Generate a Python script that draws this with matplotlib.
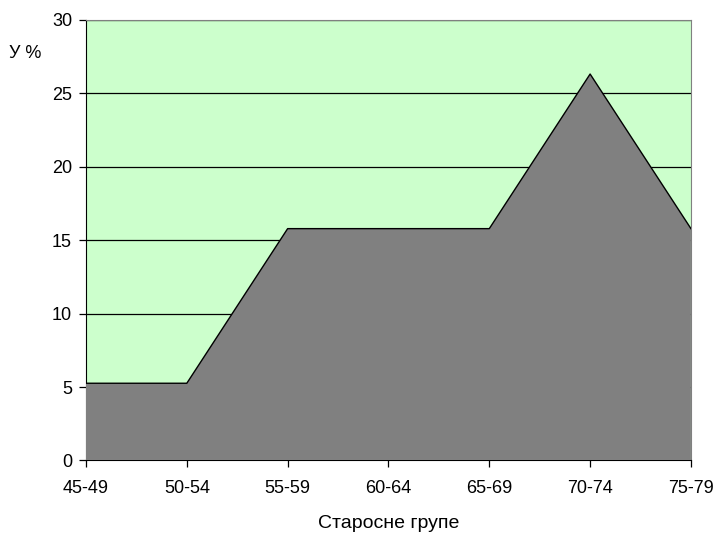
import matplotlib.pyplot as plt

plt.rcParams['font.family'] = ['Liberation Sans', 'DejaVu Sans']

groups = ['45-49', '50-54', '55-59', '60-64', '65-69', '70-74', '75-79']
percent = [5.26, 5.26, 15.79, 15.79, 15.79, 26.32, 15.79]

fig = plt.figure(figsize=(7.16, 5.36), dpi=100)
ax = fig.add_axes([0.1201, 0.1409, 0.8449, 0.8218])
ax.set_facecolor('#CCFFCC')

x = range(len(groups))
ax.fill_between(x, percent, 0, facecolor='#808080', edgecolor='none', zorder=3)
ax.plot(x, percent, color='black', lw=1, zorder=4)

ax.set_xlim(0, len(groups) - 1)
ax.set_ylim(0, 30)
ax.set_xticks(list(x))
ax.set_xticklabels(groups)
ax.set_yticks(range(0, 31, 5))
ax.yaxis.grid(True, color='black', lw=0.9, zorder=1)
ax.set_axisbelow(True)
ax.tick_params(labelsize=13, length=5, width=0.9, color='black')
ax.tick_params(axis='x', pad=9)
ax.tick_params(axis='y', pad=5)

for side in ['top', 'right']:
    ax.spines[side].set_color('#808080')
ax.spines['left'].set_color('black')
ax.spines['bottom'].set_color('black')

fig.text(0.035, 0.901, 'У %', fontsize=13, ha='center', va='center')
ax.set_xlabel('Старосне групе', fontsize=14, labelpad=13)

fig.savefig('out.png', dpi=100)
